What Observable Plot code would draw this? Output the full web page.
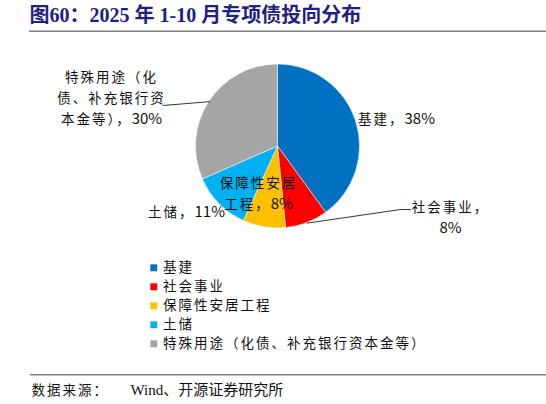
<!DOCTYPE html>
<html>
<head>
<meta charset="utf-8">
<script src="https://cdn.jsdelivr.net/npm/d3@7"></script>
<script src="https://cdn.jsdelivr.net/npm/@observablehq/plot@0.6"></script>
<style>
  body { margin: 0; background: #fff; }
</style>
</head>
<body>
<div id="chart"></div>
<script>
// 2025年1-10月专项债投向分布（%）
const names = ["基建", "社会事业", "保障性安居工程", "土储", "特殊用途（化债、补充银行资本金等）"];
const shares = [38, 8, 8, 11, 30];
const colors = ["#0070C0", "#FF0000", "#FFC000", "#00B0F0", "#A5A5A5"];
const labelHeads = ["基建，", "社会事业，\n", "保障性安居\n工程，", "土储，", "特殊用途（化\n债、补充银行资\n本金等），"];
const title = "图60：2025 年 1-10 月专项债投向分布";
const source = ["数据来源：", "Wind、开源证券研究所"];

const W = 546, H = 404;
const cx = 277.5, cy = 146, R = 82;
const cjk = "'Noto Sans CJK SC', sans-serif";
const narrow = "'Liberation Sans Narrow', 'Noto Sans CJK SC', sans-serif";
const serifFont = "'Liberation Serif', 'Noto Sans CJK SC', serif";
const fs = 13.5;

const rows = names.map((name, i) => ({name, share: shares[i], label: labelHeads[i] + shares[i] + "%", row: i}));
const arcs = d3.pie().sort(null).value(d => d.share)(rows);
const mid = a => (a.startAngle + a.endAngle) / 2;
const rim = a => [cx + R * Math.sin(mid(a)), cy - R * Math.cos(mid(a))];

// where each label sits (layout only)
const labelAt = [[396, 116.5], [450, 215], [258, 191], [186, 209.5], [111, 96]];

// leader lines from the slice rim to the label
const leaders = [
  [rim(arcs[1]), [400, 209], [410, 209]],
  [rim(arcs[4]), [163, 105]]
].flatMap((pts, k) => pts.map(([x, y]) => ({k, x, y})));

function pie(index, {x, y, color}) {
  const arc = d3.arc().innerRadius(0).outerRadius(x(R) - x(0));
  const g = d3.create("svg:g").attr("transform", `translate(${x(cx)},${y(cy)})`);
  g.selectAll("path").data(arcs).join("path")
    .attr("d", arc)
    .attr("fill", d => color(d.data.name))
    .attr("stroke", "#fff")
    .attr("stroke-width", 0.5);
  return g.node();
}

const legendTop = 267.3, legendStep = 19;

const chart = Plot.plot({
  width: W,
  height: H,
  margin: 0,
  style: {background: "#fff", overflow: "visible"},
  x: {domain: [0, W], range: [0, W], axis: null},
  y: {domain: [0, H], range: [0, H], axis: null},
  color: {domain: names, range: colors},
  marks: [
    Plot.text([title], {x: 29, y: 15.5, textAnchor: "start", fontSize: 20, fontWeight: "bold",
      fill: "#1F2283", fontFamily: serifFont}),
    Plot.ruleY([30.7], {x1: 29, x2: W, stroke: "#808080", strokeWidth: 1.5}),
    pie,
    Plot.line(leaders, {x: "x", y: "y", z: "k", stroke: "#000", strokeWidth: 0.8}),
    Plot.text(rows, {x: d => labelAt[d.row][0], y: d => labelAt[d.row][1], text: "label",
      fontSize: fs, lineHeight: 1.55, fill: "#111", fontFamily: cjk}),
    Plot.dot(rows, {x: () => 153.3, y: d => legendTop + d.row * legendStep, symbol: "square",
      r: 3.9, fill: "name", stroke: null}),
    Plot.text(rows, {x: () => 162.5, y: d => legendTop + d.row * legendStep, text: "name",
      textAnchor: "start", fontSize: fs, fill: "#111", fontFamily: cjk}),
    Plot.ruleY([374.3], {x1: 30, x2: W, stroke: "#808080", strokeWidth: 1.5}),
    Plot.text([source[0]], {x: 31, y: 390, textAnchor: "start", fontSize: fs, fill: "#111", fontFamily: cjk}),
    Plot.text([source[1]], {x: 130, y: 390, textAnchor: "start", fontSize: 15, fill: "#111", fontFamily: serifFont})
  ]
});

// SimSun-like airy spacing for the Chinese text; percentages stay tight and narrow
chart.querySelectorAll("g[aria-label=text]").forEach(g => {
  if ((g.getAttribute("font-family") || "").startsWith("'Noto")) g.setAttribute("letter-spacing", "2px");
});
chart.querySelectorAll("text, tspan").forEach(el => {
  if (el.children.length) return;
  const m = /^(.*?)(\d+%)$/s.exec(el.textContent);
  if (!m) return;
  el.textContent = m[1];
  const t = document.createElementNS("http://www.w3.org/2000/svg", "tspan");
  t.setAttribute("letter-spacing", "0");
  t.setAttribute("font-family", narrow);
  t.setAttribute("font-size", 15);
  t.textContent = m[2];
  el.append(t);
});

document.getElementById("chart").append(chart);
</script>
</body>
</html>
